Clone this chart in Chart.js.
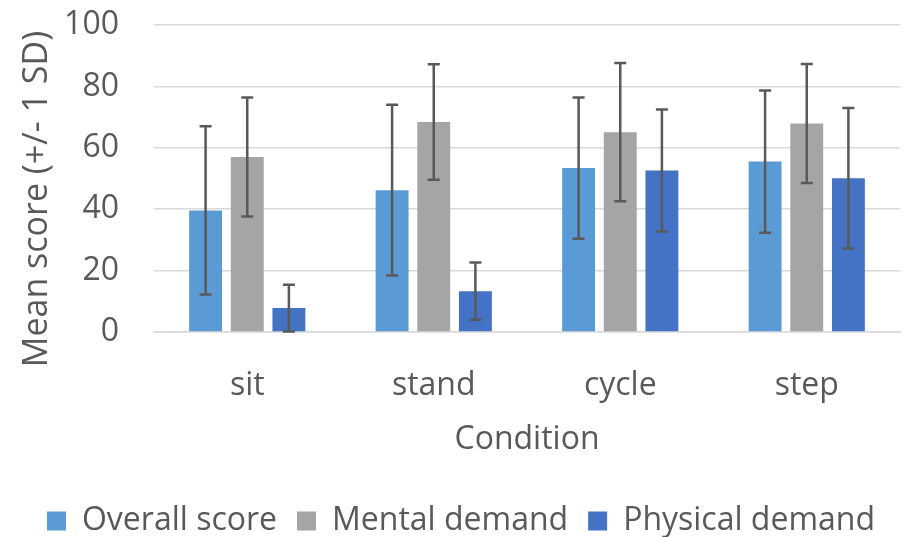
<!DOCTYPE html>
<html>
<head>
<meta charset="utf-8">
<script src="https://cdn.jsdelivr.net/npm/chart.js"></script>
<style>
  html, body { margin: 0; padding: 0; background: #fff; }
  #wrap { width: 908px; height: 537px; }
</style>
</head>
<body>
<div id="wrap"><canvas id="chart" width="908" height="537"></canvas></div>
<script>
// values
const categories = ['sit', 'stand', 'cycle', 'step'];
const overallMean = [39.6, 46.2, 53.4, 55.5];
const overallSD = [27.4, 27.8, 23.0, 23.2];
const mentalMean = [57.0, 68.4, 65.1, 67.9];
const mentalSD = [19.4, 18.8, 22.5, 19.4];
const physicalMean = [7.8, 13.3, 52.6, 50.1];
const physicalSD = [7.6, 9.3, 19.9, 22.9];
const yTicks = [0, 20, 40, 60, 80, 100];
const yTitle = 'Mean score (+/- 1 SD)';

const textColor = '#595959';
const fontFamily = '"Open Sans", "Noto Sans", sans-serif';
const fontSize = 32;

// draws the +/- 1 SD whiskers on top of each bar
const errorBars = {
  id: 'errorBars',
  afterDatasetsDraw(chart) {
    const ctx = chart.ctx;
    const y = chart.scales.y;
    ctx.save();
    ctx.strokeStyle = '#595959';
    ctx.lineWidth = 2.5;
    chart.data.datasets.forEach((ds, i) => {
      const meta = chart.getDatasetMeta(i);
      meta.data.forEach((bar, j) => {
        const m = ds.data[j], sd = ds.sd[j];
        const top = y.getPixelForValue(m + sd);
        const bot = y.getPixelForValue(Math.max(m - sd, 0));
        const cap = 6;
        ctx.beginPath();
        ctx.moveTo(bar.x, top); ctx.lineTo(bar.x, bot);
        ctx.moveTo(bar.x - cap, top); ctx.lineTo(bar.x + cap, top);
        ctx.moveTo(bar.x - cap, bot); ctx.lineTo(bar.x + cap, bot);
        ctx.stroke();
      });
    });
    ctx.restore();
  }
};

// y axis title sits a bit lower than the axis centre in the original, so draw it by hand
const yAxisTitle = {
  id: 'yAxisTitle',
  afterDraw(chart) {
    const ctx = chart.ctx;
    ctx.save();
    ctx.translate(47, 199);
    ctx.rotate(-Math.PI / 2);
    ctx.fillStyle = textColor;
    ctx.font = `34px ${fontFamily}`;
    ctx.textAlign = 'center';
    ctx.textBaseline = 'alphabetic';
    ctx.fillText(yTitle, 0, 0);
    ctx.restore();
  }
};

new Chart(document.getElementById('chart'), {
  type: 'bar',
  data: {
    labels: categories,
    datasets: [
      { label: 'Overall score', data: overallMean, sd: overallSD, backgroundColor: '#5b9bd5' },
      { label: 'Mental demand', data: mentalMean, sd: mentalSD, backgroundColor: '#a5a5a5' },
      { label: 'Physical demand', data: physicalMean, sd: physicalSD, backgroundColor: '#4472c4' }
    ]
  },
  options: {
    responsive: false,
    animation: false,
    devicePixelRatio: 1,
    categoryPercentage: 0.67,
    barPercentage: 0.79,
    layout: { padding: { left: 22, right: 8, top: 25, bottom: -10 } },
    plugins: {
      tooltip: { enabled: false },
      legend: {
        position: 'bottom',
        labels: {
          color: textColor,
          font: { family: fontFamily, size: fontSize },
          boxWidth: 19,
          boxHeight: 19,
          padding: 20
        }
      }
    },
    scales: {
      x: {
        grid: { display: false },
        border: { display: true, color: '#d9d9d9', width: 1.5 },
        ticks: { color: textColor, font: { family: fontFamily, size: fontSize }, padding: 27 },
        title: {
          display: true, text: 'Condition', color: textColor,
          font: { family: fontFamily, size: fontSize }, padding: { top: 4, bottom: 26 }
        },
        afterFit(scale) { scale.height = 153; }
      },
      y: {
        min: 0, max: 100,
        afterBuildTicks(scale) { scale.ticks = yTicks.map(v => ({ value: v })); },
        grid: { color: '#d9d9d9', lineWidth: 1.5, drawTicks: true, tickLength: 35, tickColor: 'rgba(0,0,0,0)' },
        border: { display: false },
        ticks: { color: textColor, font: { family: fontFamily, size: fontSize }, padding: 0 },
        afterFit(scale) { scale.width = 132; }
      }
    }
  },
  plugins: [errorBars, yAxisTitle]
});
</script>
</body>
</html>
